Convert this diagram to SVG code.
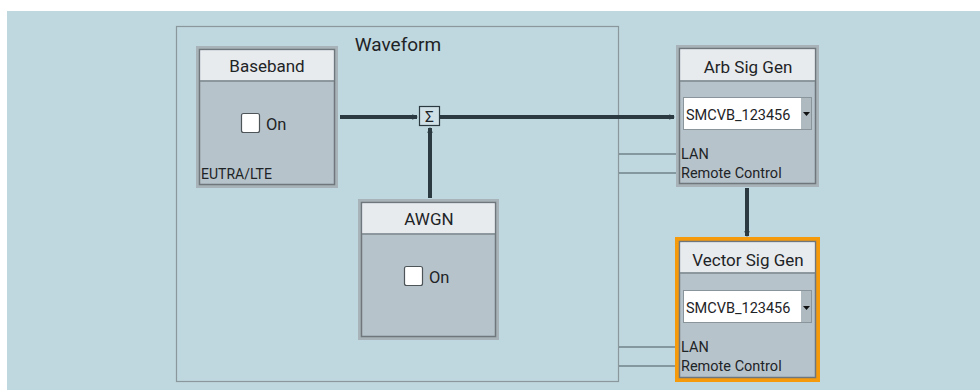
<svg xmlns="http://www.w3.org/2000/svg" width="980" height="390" viewBox="0 0 980 390">
<defs>
<style>
text{font-family:Roboto,"Liberation Sans",sans-serif;fill:#1e2326}
.outer{fill:none;stroke:#a7b3b9;stroke-width:3}
.inner{fill:#b7c3cb;stroke:#6f777c;stroke-width:1.5}
.title{fill:#e7ebee}
.div{stroke:#7b868c;stroke-width:1.5}
.ttl{font-size:17px;text-anchor:middle}
.cb{fill:#ffffff;stroke:#4d5559;stroke-width:1.2}
.on{font-size:16.5px}
.small{font-size:14.5px}
.dd{fill:#ffffff}
.ddb{fill:#aeb9c0;stroke:#8a959b;stroke-width:1}
.thick{stroke:#2b3a41;stroke-width:4;fill:none}
.thin{stroke:#4a5a61;stroke-width:1.2;fill:none}
</style>
<marker id="ah" viewBox="0 0 6 6" refX="5" refY="3" markerWidth="1.4" markerHeight="1.4" orient="auto" markerUnits="strokeWidth">
<path d="M0,0 L6,3 L0,6 Z" fill="#2b3a41"/>
</marker>
</defs>
<rect x="7" y="11" width="973" height="379" fill="#bfd7de"/>

<g id="waveform">
<rect x="176.5" y="26.5" width="442" height="355" fill="none" stroke="#8a979d" stroke-width="1.2"/>
<text x="398" y="51" font-size="19" text-anchor="middle">Waveform</text>
</g>

<g id="connectors">
<line class="thick" x1="340" y1="117" x2="417" y2="117" marker-end="url(#ah)"/>
<line class="thick" x1="440" y1="117" x2="674" y2="117" marker-end="url(#ah)"/>
<line class="thick" x1="430" y1="198" x2="430" y2="128" marker-end="url(#ah)"/>
<line class="thick" x1="747" y1="188" x2="747" y2="236" marker-end="url(#ah)"/>
<line class="thin" x1="619" y1="154" x2="677" y2="154"/>
<line class="thin" x1="619" y1="173" x2="677" y2="173"/>
<line class="thin" x1="619" y1="347" x2="677" y2="347"/>
<line class="thin" x1="619" y1="366" x2="677" y2="366"/>
</g>

<g id="sum">
<rect x="419.5" y="106.5" width="20" height="19" fill="#cfe0e6" stroke="#2b3a41" stroke-width="1.2"/>
<text x="429.5" y="122" font-size="15.5" text-anchor="middle">Σ</text>
</g>

<g id="baseband">
<rect class="outer" x="197.5" y="47.5" width="139" height="139"/>
<rect class="inner" x="199.5" y="49.5" width="135" height="135"/>
<rect class="title" x="200.3" y="50.3" width="133.4" height="30"/>
<line class="div" x1="200" y1="81" x2="334" y2="81"/>
<text class="ttl" x="267" y="72">Baseband</text>
<rect class="cb" x="241.5" y="113.5" width="18" height="19" rx="2"/>
<text class="on" x="266" y="130">On</text>
<text x="201" y="179" font-size="14">EUTRA/LTE</text>
</g>

<g id="awgn">
<rect class="outer" x="359.5" y="200.5" width="138" height="138"/>
<rect class="inner" x="361.5" y="202.5" width="134" height="134"/>
<rect class="title" x="362.3" y="203.3" width="132.4" height="30"/>
<line class="div" x1="362" y1="234" x2="495" y2="234"/>
<text class="ttl" x="429" y="225">AWGN</text>
<rect class="cb" x="404.5" y="266.5" width="18" height="19" rx="2"/>
<text class="on" x="429" y="283">On</text>
</g>

<g id="arb">
<rect class="outer" x="677.5" y="46.5" width="140" height="139"/>
<rect class="inner" x="679.5" y="48.5" width="136" height="135"/>
<rect class="title" x="680.3" y="49.3" width="134.4" height="31"/>
<line class="div" x1="680" y1="81" x2="815" y2="81"/>
<text class="ttl" x="748" y="73">Arb Sig Gen</text>
<rect class="ddb" x="683.5" y="97.5" width="128" height="32"/>
<rect class="dd" x="684" y="98" width="117" height="31"/>
<path d="M803,112 L810,112 L806.5,116 Z" fill="#111"/>
<text class="small" x="686" y="120">SMCVB_123456</text>
<text class="small" x="681" y="159">LAN</text>
<text class="small" x="681" y="178">Remote Control</text>
</g>

<g id="vector">
<rect x="677" y="239" width="141" height="141" fill="none" stroke="#f59a0b" stroke-width="4"/>
<rect class="inner" x="679.5" y="241.5" width="136" height="136"/>
<rect class="title" x="680.3" y="242.3" width="134.4" height="30"/>
<line class="div" x1="680" y1="273" x2="815" y2="273"/>
<text class="ttl" x="748" y="266">Vector Sig Gen</text>
<rect class="ddb" x="683.5" y="290.5" width="128" height="32"/>
<rect class="dd" x="684" y="291" width="117" height="31"/>
<path d="M803,306 L810,306 L806.5,310 Z" fill="#111"/>
<text class="small" x="686" y="313">SMCVB_123456</text>
<text class="small" x="681" y="352">LAN</text>
<text class="small" x="681" y="371">Remote Control</text>
</g>
</svg>
